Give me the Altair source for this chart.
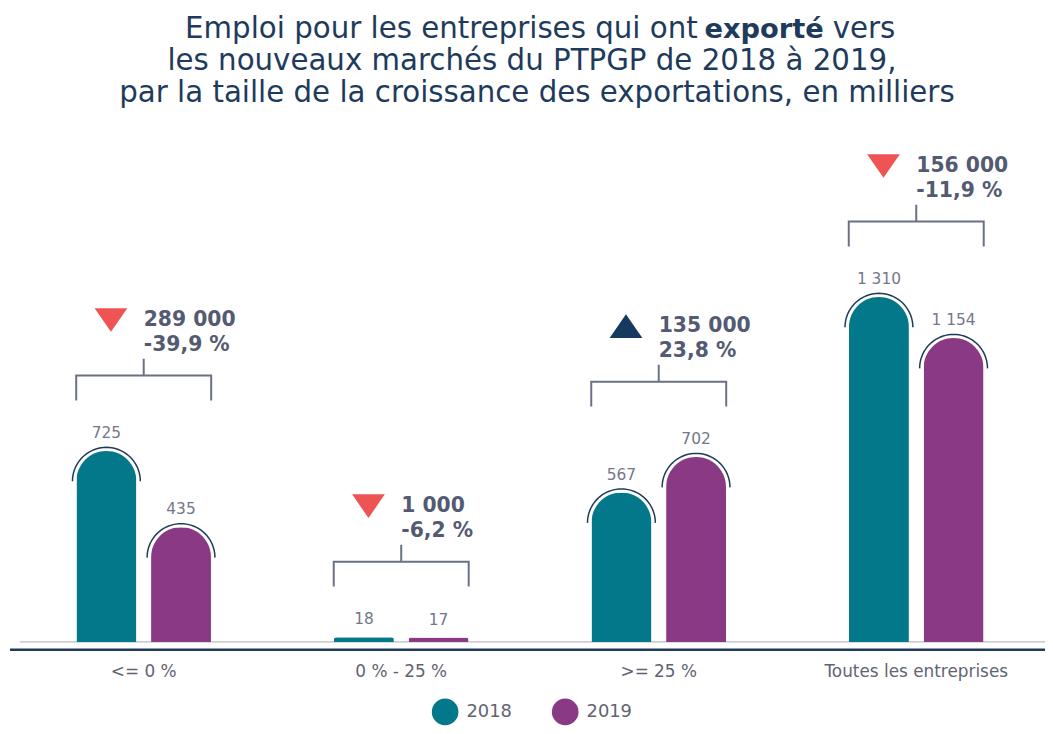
import math
import altair as alt
import pandas as pd

# ---------------- data ----------------
categories = ["<= 0 %", "0 % - 25 %", ">= 25 %", "Toutes les entreprises"]
years = ["2018", "2019"]
emp_2018 = [725, 18, 567, 1310]
emp_2019 = [435, 17, 702, 1154]
change_abs = ["289 000", "1 000", "135 000", "156 000"]
change_pct = ["-39,9 %", "-6,2 %", "23,8 %", "-11,9 %"]
direction = ["down", "down", "up", "down"]

title_line1 = ["Emploi pour les entreprises qui ont", "exporté", "vers"]
title_line2 = "les nouveaux marchés du PTPGP de 2018 à 2019,"
title_line3 = "par la taille de la croissance des exportations, en milliers"

# ---------------- tables ----------------
def fmt(v):
    return f"{v:,}".replace(",", " ")

rows = []
for c, a, b in zip(categories, emp_2018, emp_2019):
    rows.append({"cat": c, "year": "2018", "value": a, "label": fmt(a)})
    rows.append({"cat": c, "year": "2019", "value": b, "label": fmt(b)})
bars_df = pd.DataFrame(rows)

groups_df = pd.DataFrame({
    "cat": categories,
    "top": [max(a, b) for a, b in zip(emp_2018, emp_2019)],
    "abs": change_abs,
    "pct": change_pct,
    "dir": direction,
})

# ---------------- style ----------------
FONT = "DejaVu Sans"
TEAL = "#03788a"
PURPLE = "#8a3a85"
NAVY = "#1e3b5c"
GREYTXT = "#535a72"
W, H = 1038, 534

semi = " ".join(
    ("M" if i == 0 else "L") + f" {math.cos(math.pi - math.pi * i / 40):.4f} {-math.sin(math.pi - math.pi * i / 40):.4f}"
    for i in range(41)
)
bracket_path = "M -1 0.368 L -1 0 L 1 0 L 1 0.368 M 0 0 L 0 -0.25"
tri_down = "M -1 -0.72 L 1 -0.72 L 0 0.72 Z"
tri_up = "M -1 0.72 L 1 0.72 L 0 -0.72 Z"

x_enc = alt.X("cat:N", sort=categories, title=None,
              scale=alt.Scale(paddingInner=0, paddingOuter=0),
              axis=alt.Axis(labelAngle=0, domain=False, ticks=False, tickSize=0,
                            labelPadding=22, labelFont=FONT, labelFontSize=17,
                            labelColor="#5f6472", labelLimit=0, grid=False))
xo_enc = alt.XOffset("year:N", sort=years,
                     scale=alt.Scale(paddingInner=0.197, paddingOuter=0.824))
y_enc = alt.Y("value:Q", scale=alt.Scale(domain=[0, 2013], nice=False), axis=None)

base = alt.Chart(bars_df)

bars = base.mark_bar(cornerRadiusTopLeft=30.5, cornerRadiusTopRight=30.5).encode(
    x=x_enc, xOffset=xo_enc, y=y_enc,
    color=alt.Color("year:N", sort=years,
                    scale=alt.Scale(domain=years, range=[TEAL, PURPLE]),
                    legend=alt.Legend(orient="none", legendX=420, legendY=591,
                                      direction="horizontal", title=None,
                                      symbolType="circle", symbolSize=720,
                                      symbolStrokeWidth=0, labelFont=FONT,
                                      labelFontSize=18, labelColor="#5f6472",
                                      columnPadding=40, labelOffset=8, padding=0)),
)

arcs = base.transform_filter("datum.value >= 100").mark_point(
    shape=semi, filled=False, size=4679, strokeWidth=1.5, color=NAVY,
    opacity=1, yOffset=30.5,
).encode(x=x_enc, xOffset=xo_enc, y=y_enc)

vlabels = base.mark_text(dy=-13, baseline="alphabetic", font=FONT, fontSize=15.5,
                         color="#74768a").encode(
    x=x_enc, xOffset=xo_enc, y=y_enc, text="label:N")

gbase = alt.Chart(groups_df)
y_top = alt.Y("top:Q", scale=alt.Scale(domain=[0, 2013], nice=False), axis=None)

bracket = gbase.mark_point(shape=bracket_path, filled=False, size=18496,
                           strokeWidth=2, color="#6a7086", opacity=1,
                           yOffset=-76).encode(x=x_enc, y=y_top)

tri = gbase.mark_point(filled=True, size=1089, xOffset=-33, yOffset=-132,
                       strokeWidth=0, opacity=1).encode(
    x=x_enc, y=y_top,
    shape=alt.Shape("dir:N", scale=alt.Scale(domain=["down", "up"], range=[tri_down, tri_up]), legend=None),
    fill=alt.Fill("dir:N", scale=alt.Scale(domain=["down", "up"], range=["#ef5454", "#163a5f"]), legend=None),
)

t_abs = gbase.mark_text(align="left", baseline="alphabetic", dy=-126, font=FONT,
                        fontSize=20.5, fontWeight="bold", color=GREYTXT).encode(
    x=x_enc, y=y_top, text="abs:N")
t_pct = gbase.mark_text(align="left", baseline="alphabetic", dy=-101, font=FONT,
                        fontSize=20.5, fontWeight="bold", color=GREYTXT).encode(
    x=x_enc, y=y_top, text="pct:N")

one = alt.Chart(pd.DataFrame({"k": [0]}))
grey_line = one.mark_rule(color="#bcbcbc", strokeWidth=1.5).encode(
    x=alt.value(5), x2=alt.value(W), y=alt.value(H))
navy_line = one.mark_rule(color=NAVY, strokeWidth=2.5).encode(
    x=alt.value(-5), x2=alt.value(W), y=alt.value(H + 8))

TS = 29.5
t1a = one.mark_text(align="right", baseline="alphabetic", font=FONT, fontSize=TS,
                    color=NAVY).encode(x=alt.value(688), y=alt.value(-75),
                                       text=alt.value(title_line1[0]))
t1b = one.mark_text(align="center", baseline="alphabetic", font=FONT, fontSize=27.5,
                    fontWeight="bold", color=NAVY).encode(
    x=alt.value(755), y=alt.value(-75), text=alt.value(title_line1[1]))
t1c = one.mark_text(align="left", baseline="alphabetic", font=FONT, fontSize=TS,
                    color=NAVY).encode(x=alt.value(824), y=alt.value(-75),
                                       text=alt.value(title_line1[2]))
t2 = one.mark_text(align="center", baseline="alphabetic", font=FONT, fontSize=TS,
                   color=NAVY).encode(x=alt.value(521), y=alt.value(-42),
                                      text=alt.value(title_line2))
t3 = one.mark_text(align="center", baseline="alphabetic", font=FONT, fontSize=TS,
                   color=NAVY).encode(x=alt.value(526), y=alt.value(-10),
                                      text=alt.value(title_line3))

chart = alt.layer(
    grey_line, bars, arcs, vlabels, bracket, tri, t_abs, t_pct, navy_line,
    t1a, t1b, t1c, t2, t3,
).resolve_scale(color="independent").properties(
    width=W, height=H, autosize="none",
    padding={"left": 7, "top": 102, "right": 0, "bottom": 82},
).configure_view(stroke=None)

chart.save("out.html", embed_options={"renderer": "svg", "actions": False})
